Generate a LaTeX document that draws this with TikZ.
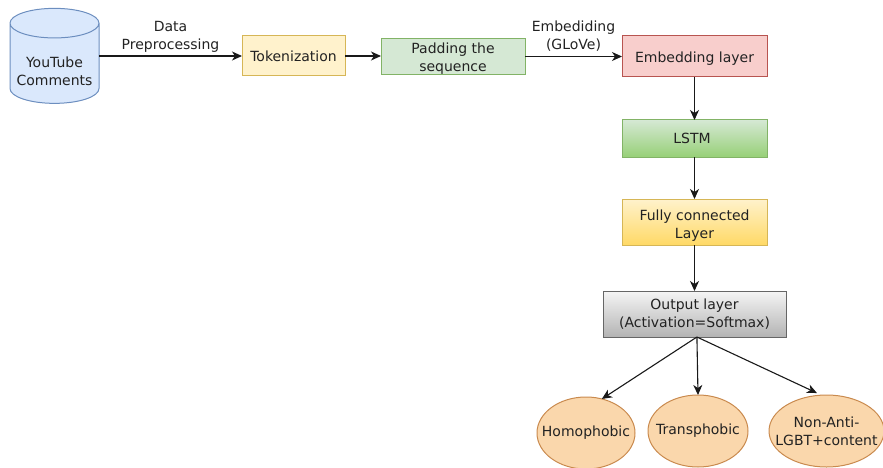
\documentclass[tikz,border=0pt]{standalone}
\usepackage{fontspec}
\setmainfont{DejaVu Sans}
\usetikzlibrary{arrows.meta}
\usetikzlibrary{shapes.geometric}

\definecolor{txtcol}{HTML}{222222}
\definecolor{blueline}{HTML}{6C8EBF}
\definecolor{bluefill}{HTML}{DAE8FC}
\definecolor{yellowline}{HTML}{D6B656}
\definecolor{yellowfill}{HTML}{FFF2CC}
\definecolor{yellowdeep}{HTML}{FFD966}
\definecolor{greenline}{HTML}{82B366}
\definecolor{greenfill}{HTML}{D5E8D4}
\definecolor{greendeep}{HTML}{97D077}
\definecolor{redline}{HTML}{B85450}
\definecolor{redfill}{HTML}{F8CECC}
\definecolor{greyline}{HTML}{666666}
\definecolor{greyfill}{HTML}{F5F5F5}
\definecolor{greydeep}{HTML}{B3B3B3}
\definecolor{orangeline}{HTML}{C98A4E}
\definecolor{orangefill}{HTML}{FAD7AC}
\tikzset{
    flowbox/.style={draw, rectangle, inner sep=0pt, outer sep=0pt, align=center, line width=1pt, text=txtcol},
    classnode/.style={draw=orangeline, fill=orangefill, ellipse, inner sep=-15pt, outer sep=0pt, align=center, line width=1pt, minimum height=72pt, text=txtcol},
    flow/.style={-{Stealth[length=10pt,width=9pt,inset=3pt]}, line width=1.1pt, black!90},
}

\begin{document}
\begin{tikzpicture}[x=1pt, y=-1pt, font=\fontsize{14}{18}\selectfont]

    \useasboundingbox (0,0) rectangle (883,468);

    \node[draw=blueline, fill=bluefill, cylinder, shape border rotate=90, aspect=0.39, minimum width=89pt, minimum height=95pt, inner sep=0pt, outer sep=0pt, align=center, line width=1pt, text=txtcol] (comments) at (54.5,63.5) {\rule{0pt}{27pt}YouTube\\Comments};
    \node[flowbox, minimum width=103pt, minimum height=40pt, draw=yellowline, fill=yellowfill] (token) at (293.5,56) {Tokenization};
    \node[flowbox, minimum width=144pt, minimum height=35pt, draw=greenline, fill=greenfill] (pad) at (453,56.5) {\rule{0pt}{15pt}Padding the\\sequence};
    \node[flowbox, minimum width=145pt, minimum height=41pt, draw=redline, fill=redfill] (embed) at (694.5,56.5) {\rule{0pt}{14pt}Embedding layer};
    \node[flowbox, minimum width=145pt, minimum height=37pt, draw=greenline, top color=greenfill, bottom color=greendeep] (lstm) at (694.5,138.5) {LSTM\hspace*{5pt}};
    \node[flowbox, minimum width=145pt, minimum height=46pt, draw=yellowline, top color=yellowfill, bottom color=yellowdeep] (dense) at (694.5,222) {\rule{0pt}{17pt}Fully connected\\Layer};
    \node[flowbox, minimum width=183pt, minimum height=46pt, draw=greyline, top color=greyfill, bottom color=greydeep] (output) at (694.5,314) {Output layer\\(Activation=Softmax)};
    \node[classnode, minimum width=98pt] (homo) at (586,433) {Homophobic};
    \node[classnode, minimum width=100pt] (trans) at (698,431) {Transphobic};
    \node[classnode, minimum width=115pt] (nonanti) at (826.5,431) {Non-Anti-\\LGBT+content};

    \draw[flow] (comments.east |- token.west) -- node[above, align=center, text=txtcol] {Data\\Preprocessing} (token.west);
    \draw[flow] (token.east) -- (token.east -| pad.west);
    \draw[flow] (pad.east) -- node[above, align=center, text=txtcol, yshift=1pt] {Embediding\\(GLoVe)} (embed.west);
    \draw[flow] (embed) -- (lstm);
    \draw[flow] (lstm) -- (dense);
    \draw[flow] (dense) -- (output);
    \draw[flow] (output.276) -- (homo.65);
    \draw[flow] (output.276) -- (trans.north);
    \draw[flow, shorten >=5pt] (output.276) -- (nonanti.98);

\end{tikzpicture}
\end{document}
